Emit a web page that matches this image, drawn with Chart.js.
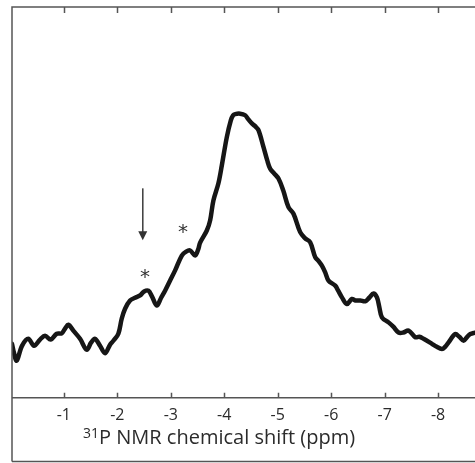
<!DOCTYPE html>
<html>
<head>
<meta charset="utf-8">
<script src="https://cdn.jsdelivr.net/npm/chart.js@4.4.0/dist/chart.umd.min.js"></script>
<style>
  html, body { margin: 0; padding: 0; background: #fff; }
  #wrap { position: relative; width: 475px; height: 463px; overflow: hidden; }
  #xtitle {
    position: absolute; left: 83px; top: 425px;
    font-family: "Open Sans", sans-serif; font-size: 20px; line-height: 24px;
    color: #2b2b2b; white-space: nowrap;
  }
  #xtitle sup { font-size: 14px; vertical-align: 6px; line-height: 0; }
</style>
</head>
<body>
<div id="wrap">
  <canvas id="nmrChart" width="475" height="463"></canvas>
  <div id="xtitle"><sup>31</sup>P NMR chemical shift (ppm)</div>
</div>
<script>
// spectrum (ppm, arbitrary intensity)
const shiftPpm = [
  -0.03, -0.067, -0.118, -0.217, -0.335, -0.442, -0.554, -0.648, -0.754, -0.867,
  -0.96, -1.022, -1.084, -1.177, -1.303, -1.428, -1.508, -1.583, -1.677, -1.771,
  -1.864, -1.926, -2.019, -2.083, -2.145, -2.238, -2.332, -2.426, -2.501, -2.581,
  -2.65, -2.738, -2.819, -2.893, -2.987, -3.081, -3.206, -3.287, -3.361, -3.455,
  -3.511, -3.549, -3.674, -3.736, -3.797, -3.891, -3.955, -4.048, -4.123, -4.166,
  -4.204, -4.297, -4.391, -4.447, -4.516, -4.578, -4.64, -4.733, -4.803, -4.859,
  -4.934, -5.014, -5.102, -5.201, -5.295, -5.42, -5.514, -5.607, -5.701, -5.757,
  -5.826, -5.888, -5.95, -6.076, -6.131, -6.201, -6.294, -6.388, -6.45, -6.543,
  -6.637, -6.712, -6.792, -6.856, -6.899, -6.949, -7.073, -7.161, -7.26, -7.348,
  -7.447, -7.573, -7.648, -7.728, -7.885, -7.966, -8.072, -8.134, -8.196, -8.321,
  -8.396, -8.477, -8.545, -8.602, -8.696
];
const intensity = [
  13.8, 11.5, 9.5, 13.3, 15.1, 13.3, 14.9, 15.9, 14.9, 16.4,
  16.5, 17.7, 18.7, 17.2, 15.1, 12.3, 14.1, 15.1, 13.3, 11.4,
  13.6, 14.6, 16.4, 20.3, 22.8, 24.9, 25.6, 26.2, 27.2, 27.4,
  25.9, 23.6, 25.6, 27.4, 30.0, 32.6, 36.4, 37.4, 37.7, 36.4,
  37.9, 39.7, 42.8, 45.4, 50.5, 54.9, 59.5, 66.7, 71.0, 72.3,
  72.6, 72.7, 72.3, 71.3, 70.2, 69.5, 68.5, 64.2, 60.8, 58.6,
  57.4, 56.1, 53.1, 48.8, 47.1, 42.4, 40.8, 39.8, 36.0, 35.1,
  33.8, 32.1, 30.0, 28.7, 27.4, 25.7, 24.0, 25.3, 24.9, 24.9,
  24.7, 25.6, 26.7, 25.7, 23.3, 20.6, 19.3, 18.2, 16.7, 16.7,
  17.2, 15.5, 15.6, 15.1, 13.8, 13.1, 12.5, 13.1, 14.2, 16.3,
  15.6, 14.6, 15.6, 16.3, 16.7
];
const tickValues = [-1, -2, -3, -4, -5, -6, -7, -8];
const xRange = [-8.69, -0.03];
const yRange = [0, 100];

// annotations in data units
const arrowMark = { x: -2.476, yTop: 53.6, yTip: 40.3 };
const starMarks = [
  { x: -2.519, y: 31.8 },
  { x: -3.23, y: 43.3 }
];

const points = shiftPpm.map((x, i) => ({ x: x, y: intensity[i] }));

const frameColor = '#555';

// frame, inside ticks, arrow and asterisks
const framePlugin = {
  id: 'frame',
  afterDraw(chart) {
    const c = chart.ctx;
    const area = chart.chartArea;
    const xs = chart.scales.x;
    const ys = chart.scales.y;
    const right = chart.width;
    const bottom = chart.height - 1.5;
    c.save();
    c.strokeStyle = frameColor;
    c.lineWidth = 1.5;
    c.beginPath();
    c.moveTo(area.left, bottom);
    c.lineTo(area.left, area.top);
    c.lineTo(right, area.top);
    c.moveTo(area.left, area.bottom);
    c.lineTo(right, area.bottom);
    c.moveTo(area.left, bottom);
    c.lineTo(right, bottom);
    tickValues.forEach(v => {
      const px = Math.round(xs.getPixelForValue(v)) + 0.5;
      c.moveTo(px, area.top);
      c.lineTo(px, area.top + 6);
      c.moveTo(px, area.bottom);
      c.lineTo(px, area.bottom - 5);
    });
    c.stroke();

    // arrow
    const ax = xs.getPixelForValue(arrowMark.x);
    const ay0 = ys.getPixelForValue(arrowMark.yTop);
    const ay1 = ys.getPixelForValue(arrowMark.yTip);
    c.strokeStyle = '#444';
    c.fillStyle = '#333';
    c.lineWidth = 1.6;
    c.beginPath();
    c.moveTo(ax, ay0);
    c.lineTo(ax, ay1 - 7);
    c.stroke();
    c.beginPath();
    c.moveTo(ax - 4.5, ay1 - 9);
    c.lineTo(ax + 4.5, ay1 - 9);
    c.lineTo(ax, ay1);
    c.closePath();
    c.fill();

    // asterisks
    c.font = '20px "DejaVu Sans"';
    c.textAlign = 'center';
    c.textBaseline = 'alphabetic';
    c.fillStyle = '#333';
    const m = c.measureText('*');
    const off = (m.actualBoundingBoxAscent - m.actualBoundingBoxDescent) / 2;
    starMarks.forEach(s => {
      c.fillText('*', xs.getPixelForValue(s.x), ys.getPixelForValue(s.y) + off);
    });
    c.restore();
  }
};

const ctx = document.getElementById('nmrChart').getContext('2d');
const nmrChart = new Chart(ctx, {
  type: 'line',
  data: {
    datasets: [{
      data: points,
      borderColor: '#161616',
      borderWidth: 4.5,
      pointRadius: 0,
      tension: 0.35,
      borderJoinStyle: 'round',
      borderCapStyle: 'round',
      fill: false
    }]
  },
  options: {
    responsive: false,
    animation: false,
    layout: { padding: { left: 12, top: 7, right: 0, bottom: 30 } },
    plugins: {
      legend: { display: false },
      tooltip: { enabled: false }
    },
    scales: {
      x: {
        type: 'linear',
        reverse: true,
        min: xRange[0],
        max: xRange[1],
        grid: { display: false, drawTicks: false },
        border: { display: false },
        afterBuildTicks: scale => {
          scale.ticks = tickValues.map(v => ({ value: v }));
        },
        ticks: {
          padding: 8,
          color: '#2b2b2b',
          font: { family: '"Open Sans", sans-serif', size: 16 },
          maxRotation: 0
        }
      },
      y: {
        display: false,
        min: yRange[0],
        max: yRange[1]
      }
    }
  },
  plugins: [framePlugin]
});
</script>
</body>
</html>
